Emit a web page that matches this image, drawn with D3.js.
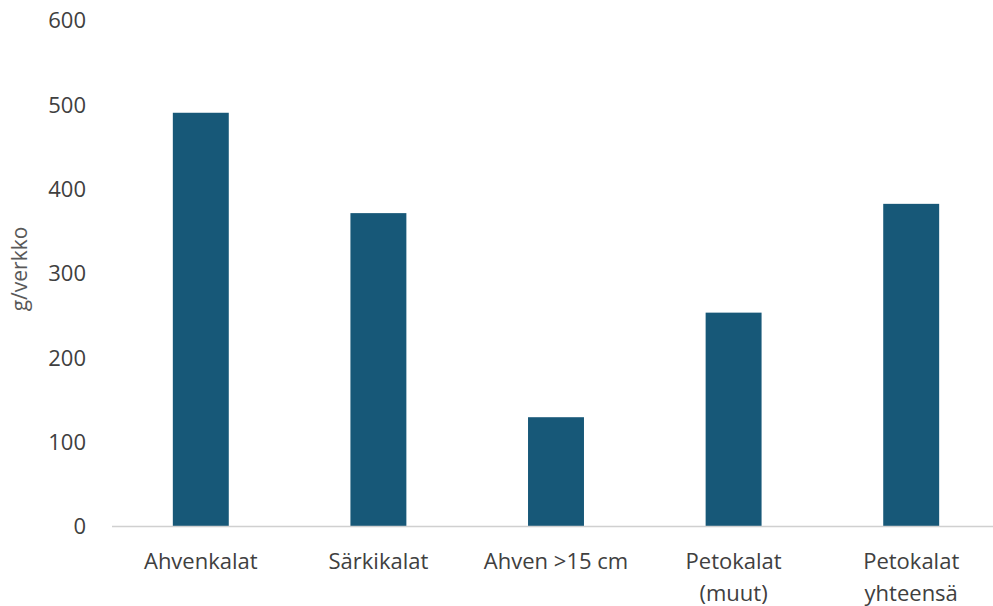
<!DOCTYPE html>
<html><head><meta charset="utf-8">
<script src="https://cdn.jsdelivr.net/npm/d3@7"></script>
<style>body{margin:0;background:#fff}svg{display:block}</style>
</head><body>
<svg id="c" width="993" height="606"></svg>
<script>
const categories = [["Ahvenkalat"],["Särkikalat"],["Ahven >15 cm"],["Petokalat","(muut)"],["Petokalat","yhteensä"]];
const values = [490, 371, 129, 253, 382];
const yTicks = [0,100,200,300,400,500,600];

const svg = d3.select("#c");
const font = "'Open Sans', sans-serif";
const x = d3.scaleBand().domain(d3.range(categories.length)).range([112, 1000]).padding(0);
const y = d3.scaleLinear().domain([0, 600]).range([526, 20]);
const bw = x.bandwidth() * 0.315;

svg.append("g").selectAll("rect").data(values).join("rect")
  .attr("x", (d,i) => x(i) + x.bandwidth()/2 - bw/2)
  .attr("width", bw)
  .attr("y", d => y(d))
  .attr("height", d => y(0) - y(d))
  .attr("fill", "#175878");

svg.append("line").attr("x1", 112).attr("x2", 993).attr("y1", y(0)+0.5).attr("y2", y(0)+0.5)
  .attr("stroke", "#d0d0d0").attr("stroke-width", 1.5);

const yAxis = d3.axisLeft(y).tickValues(yTicks).tickSize(0).tickPadding(0);
const gy = svg.append("g").attr("transform", "translate(86,0)").call(yAxis);
gy.select(".domain").remove();
gy.selectAll("text").attr("font-family", font).attr("font-size", 22).attr("fill", "#404040").attr("dy", "0.35em");

const gx = svg.append("g");
categories.forEach((lines, i) => {
  const t = gx.append("text").attr("text-anchor", "middle")
    .attr("font-family", font).attr("font-size", 22).attr("fill", "#404040");
  lines.forEach((l, j) => {
    t.append("tspan").attr("x", x(i) + x.bandwidth()/2).attr("y", 569 + j*32).text(l);
  });
});

svg.append("text").attr("transform", "translate(27,269) rotate(-90)")
  .attr("text-anchor", "middle").attr("font-family", font).attr("font-size", 21)
  .attr("fill", "#595959").text("g/verkko");
</script>
</body></html>
